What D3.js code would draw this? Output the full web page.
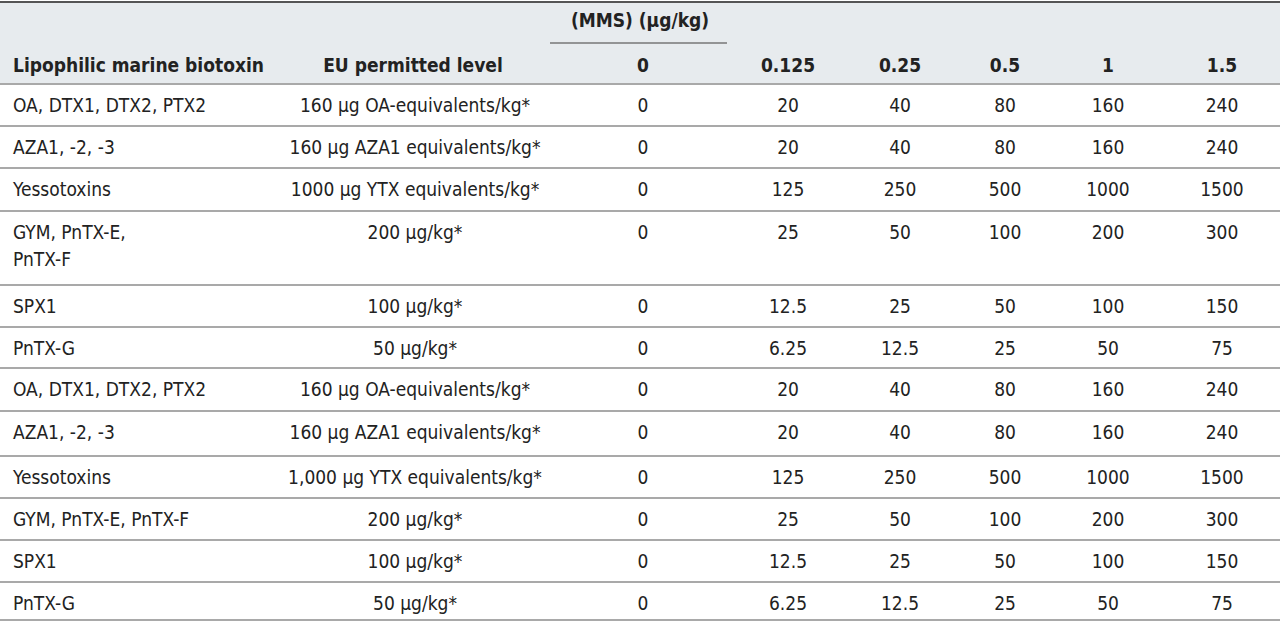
<head>
<meta charset="utf-8">
<title>Lipophilic marine biotoxins</title>
<script src="https://cdn.jsdelivr.net/npm/d3@7"></script>
<style>
body { margin: 0; background: #fff; }
svg text { font-family: "Liberation Sans Narrow", "DejaVu Sans Condensed", sans-serif; fill: #222; }
</style>
</head>
<body>
<script>
var toxins = ["OA, DTX1, DTX2, PTX2", "AZA1, -2, -3", "Yessotoxins", ["GYM, PnTX-E,", "PnTX-F"], "SPX1", "PnTX-G",
  "OA, DTX1, DTX2, PTX2", "AZA1, -2, -3", "Yessotoxins", "GYM, PnTX-E, PnTX-F", "SPX1", "PnTX-G"];
var levels = ["160 µg OA-equivalents/kg*", "160 µg AZA1 equivalents/kg*", "1000 µg YTX equivalents/kg*", "200 µg/kg*", "100 µg/kg*", "50 µg/kg*",
  "160 µg OA-equivalents/kg*", "160 µg AZA1 equivalents/kg*", "1,000 µg YTX equivalents/kg*", "200 µg/kg*", "100 µg/kg*", "50 µg/kg*"];
var mms = ["0", "0.125", "0.25", "0.5", "1", "1.5"];
var values = [
  [0, 20, 40, 80, 160, 240],
  [0, 20, 40, 80, 160, 240],
  [0, 125, 250, 500, 1000, 1500],
  [0, 25, 50, 100, 200, 300],
  [0, 12.5, 25, 50, 100, 150],
  [0, 6.25, 12.5, 25, 50, 75],
  [0, 20, 40, 80, 160, 240],
  [0, 20, 40, 80, 160, 240],
  [0, 125, 250, 500, 1000, 1500],
  [0, 25, 50, 100, 200, 300],
  [0, 12.5, 25, 50, 100, 150],
  [0, 6.25, 12.5, 25, 50, 75]
];
var rowBounds = [84, 126, 168, 211, 285, 327, 368, 411, 456, 498, 540, 582, 620];
var mmsX = [643, 788, 900, 1005, 1108, 1222];

var w = 1280, h = 621;
var svg = d3.select("body").append("svg").attr("width", w).attr("height", h);

svg.append("rect").attr("x", 0).attr("y", 2).attr("width", w).attr("height", 82).attr("fill", "#e7ebee");
svg.append("line").attr("x1", 0).attr("x2", w).attr("y1", 2).attr("y2", 2).attr("stroke", "#555").attr("stroke-width", 2);

svg.append("text").text("(MMS) (µg/kg)").attr("x", 640).attr("y", 27).attr("text-anchor", "middle")
  .attr("font-size", "19px").attr("font-weight", "bold");
svg.append("line").attr("x1", 550).attr("x2", 727).attr("y1", 43).attr("y2", 43).attr("stroke", "#777").attr("stroke-width", 1.5);

var hy = 72;
svg.append("text").text("Lipophilic marine biotoxin").attr("x", 13).attr("y", hy).attr("font-size", "19px").attr("font-weight", "bold");
svg.append("text").text("EU permitted level").attr("x", 413).attr("y", hy).attr("text-anchor", "middle").attr("font-size", "19px").attr("font-weight", "bold");
svg.selectAll("text.mms").data(mms).enter().append("text").attr("class", "mms")
  .text(function(d){ return d; })
  .attr("x", function(d, i){ return mmsX[i]; })
  .attr("y", hy).attr("text-anchor", "middle").attr("font-size", "19px").attr("font-weight", "bold");

svg.selectAll("line.row").data(rowBounds).enter().append("line").attr("class", "row")
  .attr("x1", 0).attr("x2", w)
  .attr("y1", function(d){ return d; }).attr("y2", function(d){ return d; })
  .attr("stroke", "#a9a9a9").attr("stroke-width", 2);

var rows = svg.selectAll("g.r").data(toxins).enter().append("g").attr("class", "r")
  .attr("transform", function(d, i){ return "translate(0," + (rowBounds[i] + 28) + ")"; });

rows.each(function(d, i){
  var g = d3.select(this);
  var lines = Array.isArray(d) ? d : [d];
  lines.forEach(function(t, k){
    g.append("text").text(t).attr("x", 13).attr("y", k * 27).attr("font-size", "19px");
  });
  g.append("text").text(levels[i]).attr("x", 415).attr("y", 0).attr("text-anchor", "middle").attr("font-size", "19px");
  g.selectAll("text.v").data(values[i]).enter().append("text").attr("class", "v")
    .text(function(v){ return v; })
    .attr("x", function(v, j){ return mmsX[j]; })
    .attr("y", 0).attr("text-anchor", "middle").attr("font-size", "19px");
});
</script>
</body>
